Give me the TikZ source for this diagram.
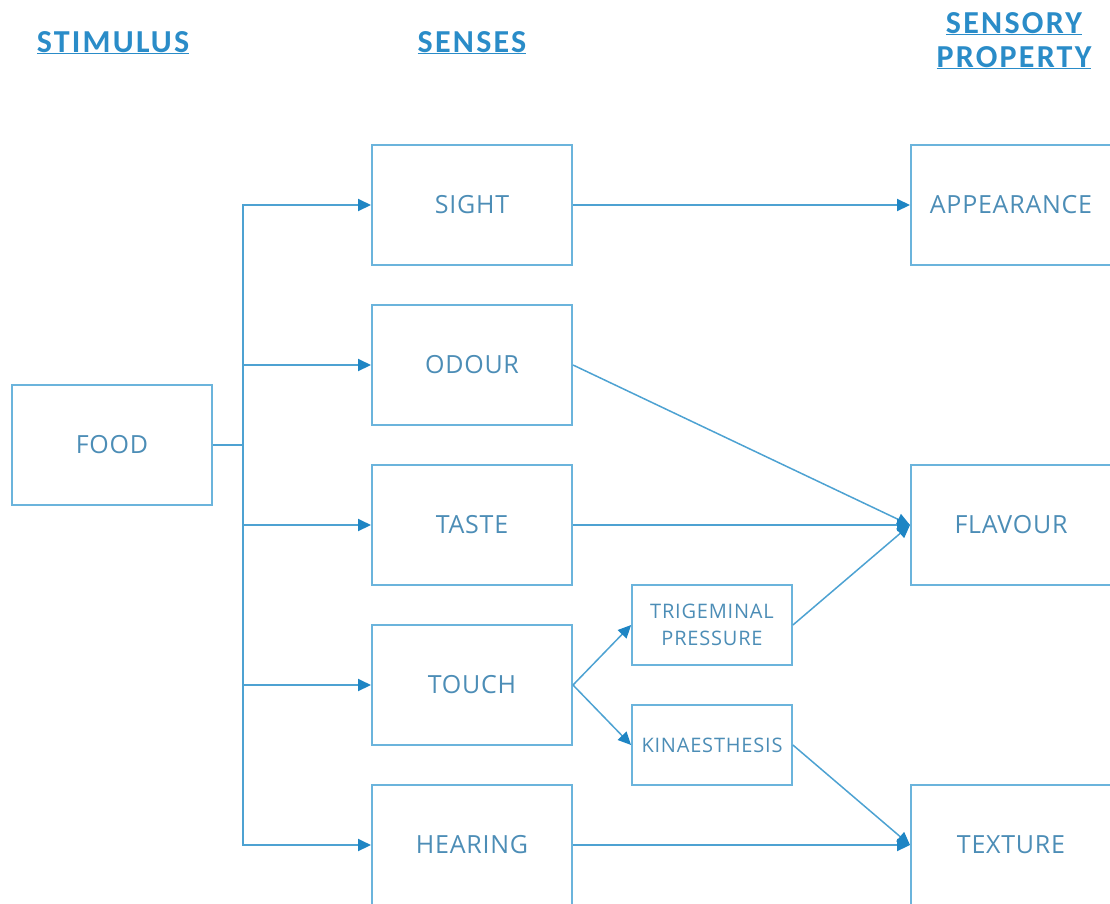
\documentclass[tikz,border=0pt]{standalone}
\usepackage{fontspec}
\setmainfont{Open Sans}
\newfontfamily\hdrfont{Carlito}
\usetikzlibrary{arrows.meta}
\definecolor{hdrblue}{HTML}{2A8CC8}
\definecolor{boxblue}{HTML}{6BB4DC}
\definecolor{lineblue}{HTML}{4DA2D2}
\definecolor{tipblue}{HTML}{1E85C4}
\definecolor{txtblue}{HTML}{4C8DB6}
\tikzset{
  x=1pt, y=-1pt,
  bigbox/.style={draw=boxblue, line width=2pt, minimum width=200pt, minimum height=120pt, inner sep=0pt,
    text=txtblue, font=\addfontfeatures{LetterSpace=3}\fontsize{25}{29}\selectfont},
  smallbox/.style={draw=boxblue, line width=1.8pt, minimum width=160pt, minimum height=80pt, inner sep=0pt,
    text=txtblue, align=center, font=\addfontfeatures{LetterSpace=4}\fontsize{20}{27}\selectfont},
  hdr/.style={text=hdrblue, anchor=base, inner sep=0pt, font=\hdrfont\bfseries\addfontfeatures{LetterSpace=7}\fontsize{32}{36}\selectfont},
  conn/.style={draw=lineblue, line width=2pt},
  arr/.style={conn, -{Triangle[length=13pt,width=12pt,color=tipblue]}},
}
\begin{document}
\begin{tikzpicture}
\useasboundingbox (0,0) rectangle (1110,903);
\clip (0,0) rectangle (1110,903);
% headers
\node[hdr] (h1) at (113,52) {\underline{STIMULUS}};
\node[hdr] (h2) at (472,52) {\underline{SENSES}};
\node[hdr] (h3) at (1014,33) {\underline{SENSORY}};
\node[hdr] (h4) at (1014,67) {\underline{PROPERTY}};
% boxes
\node[bigbox] (food) at (112,445) {FOOD};
\node[bigbox] (sight) at (472,205) {SIGHT};
\node[bigbox] (odour) at (472,365) {ODOUR};
\node[bigbox] (taste) at (472,525) {TASTE};
\node[bigbox] (touch) at (472,685) {TOUCH};
\node[bigbox] (hearing) at (472,845) {HEARING};
\node[bigbox] (appear) at (1011,205) {APPEARANCE};
\node[bigbox] (flavour) at (1011,525) {FLAVOUR};
\node[bigbox] (texture) at (1011,845) {TEXTURE};
\node[smallbox] (trig) at (712,625) {TRIGEMINAL\\PRESSURE};
\node[smallbox] (kin) at (712,745) {KINAESTHESIS};
% bus
\coordinate (j) at (243,445);
\draw[conn] (food.east) -- (j);
\draw[arr] (j) |- (sight.west);
\draw[arr] (j) |- (odour.west);
\draw[arr] (j) |- (taste.west);
\draw[arr] (j) |- (touch.west);
\draw[arr] (j) |- (hearing.west);
% right side
\draw[arr] (sight.east) -- (appear.west);
\draw[arr, line width=1.5pt] (odour.east) -- (flavour.west);
\draw[arr] (taste.east) -- (flavour.west);
\draw[arr, line width=1.5pt] (trig.east) -- (flavour.west);
\draw[arr, line width=1.5pt] (touch.east) -- (trig.west);
\draw[arr, line width=1.5pt] (touch.east) -- (kin.west);
\draw[arr, line width=1.5pt] (kin.east) -- (texture.west);
\draw[arr] (hearing.east) -- (texture.west);
\end{tikzpicture}
\end{document}
